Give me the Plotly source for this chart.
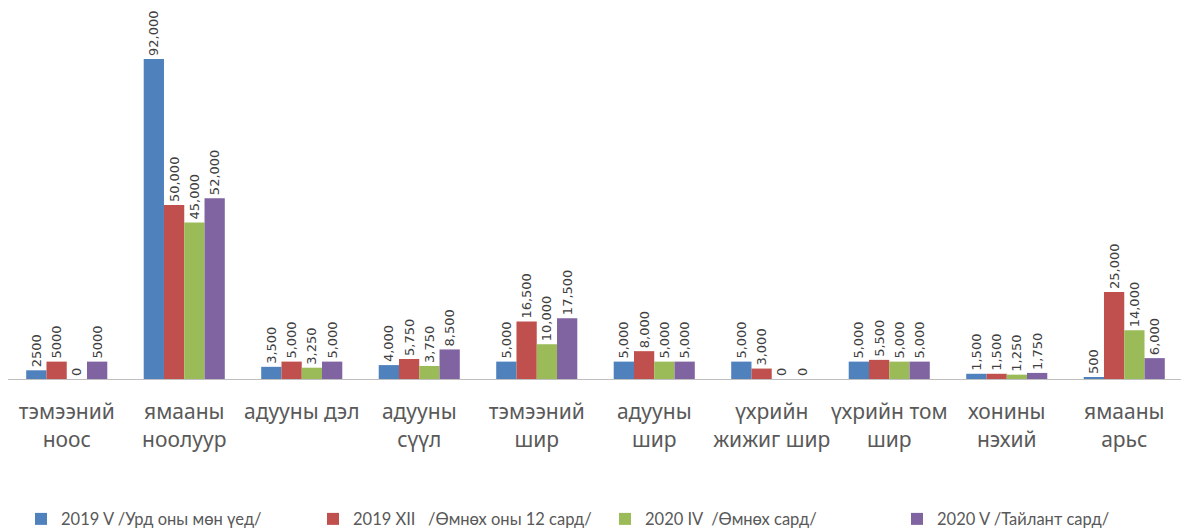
import plotly.graph_objects as go

categories = [
    "тэмээний<br>ноос", "ямааны<br>ноолуур", "адууны дэл", "адууны<br>сүүл",
    "тэмээний<br>шир", "адууны<br>шир", "үхрийн<br>жижиг шир", "үхрийн том<br>шир",
    "хонины<br>нэхий", "ямааны<br>арьс",
]
series_names = [
    "2019 V /Урд оны мөн үед/",
    "2019 XII \u00a0\u00a0/Өмнөх оны 12 сард/",
    "2020 IV \u00a0/Өмнөх сард/",
    "2020 V /Тайлант сард/",
]
v2019_5 = [2500, 92000, 3500, 4000, 5000, 5000, 5000, 5000, 1500, 500]
v2019_12 = [5000, 50000, 5000, 5750, 16500, 8000, 3000, 5500, 1500, 25000]
v2020_4 = [0, 45000, 3250, 3750, 10000, 5000, 0, 5000, 1250, 14000]
v2020_5 = [5000, 52000, 5000, 8500, 17500, 5000, 0, 5000, 1750, 6000]
colors = ["#4F81BD", "#C0504D", "#9BBB59", "#8064A2"]


def labels(vals):
    # first category in the source is shown without thousands separator
    return [str(v) if i == 0 else f"{v:,}" for i, v in enumerate(vals)]


fig = go.Figure()
for name, vals, c in zip(series_names, [v2019_5, v2019_12, v2020_4, v2020_5], colors):
    fig.add_trace(go.Bar(
        x=categories, y=vals, name=name,
        marker=dict(color=c, line=dict(width=0)),
        text=labels(vals), textposition="outside", textangle=-90,
        textfont=dict(size=13, color="#404040", family="DejaVu Sans"),
        cliponaxis=False, constraintext="none",
    ))

# page body has an 8px margin, so the figure is sized to fit inside the window
fig.update_layout(
    width=1181, height=520,
    barmode="group", bargap=0.31, bargroupgap=0,
    plot_bgcolor="white", paper_bgcolor="white",
    margin=dict(l=0, r=6, t=0, b=149),
    font=dict(family="Noto Sans", color="#595959"),
    xaxis=dict(showline=True, linecolor="#BFBFBF", linewidth=1, ticks="",
               automargin=False, ticklabelstandoff=14, tickangle=0,
               tickfont=dict(size=21, color="#595959")),
    yaxis=dict(range=[0, 106660], visible=False),
    legend=dict(orientation="h", x=0.535, xanchor="center",
                yref="container", y=0.017, yanchor="middle",
                font=dict(size=16.5, color="#595959", family="Lato"),
                entrywidth=247, traceorder="normal"),
)

fig.write_html("out.html")
